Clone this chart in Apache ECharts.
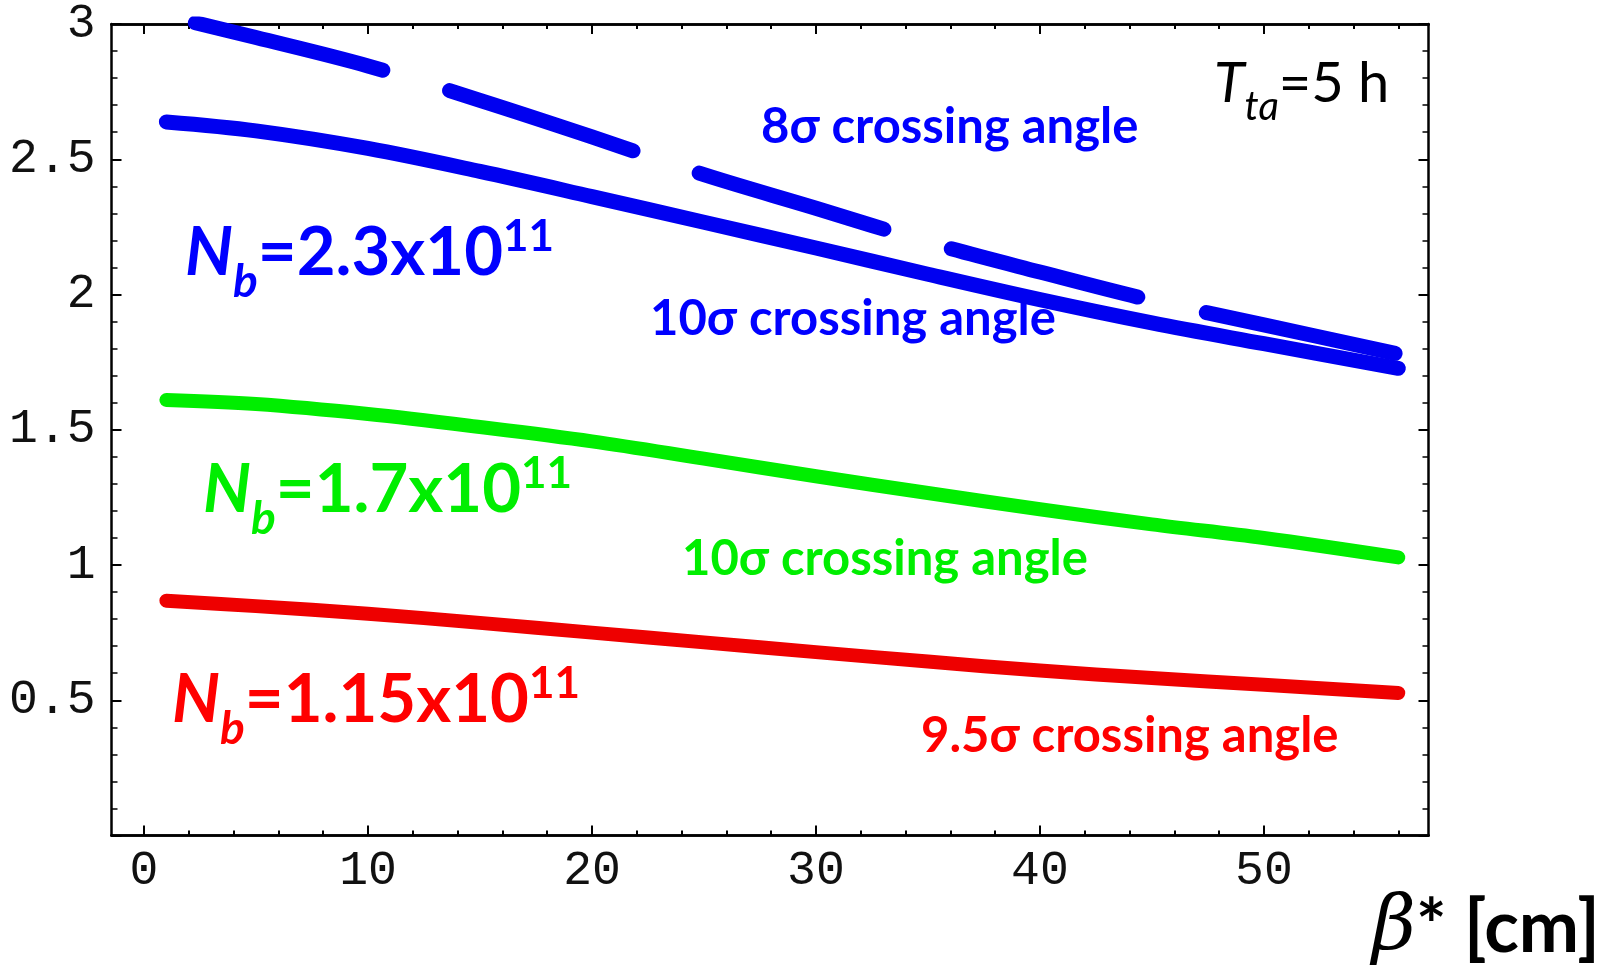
<!DOCTYPE html>
<html><head><meta charset="utf-8">
<script src="https://cdn.jsdelivr.net/npm/echarts@6/dist/echarts.min.js"></script>
<style>html,body{margin:0;padding:0;background:#fff}#c{width:1614px;height:966px}</style>
</head><body><div id="c"></div>
<script>
// beta* [cm]
const betaStar = [1, 5, 10, 15, 20, 25, 30, 35, 40, 45, 50, 56];
// Nb = 2.3e11, 8 sigma crossing angle (dashed)
const nb230_8sigma  = [3.03, 2.95, 2.845, 2.718, 2.583, 2.443, 2.319, 2.193, 2.083, 1.978, 1.888, 1.78];
// Nb = 2.3e11, 10 sigma crossing angle
const nb230_10sigma = [2.638, 2.605, 2.54, 2.455, 2.362, 2.267, 2.172, 2.075, 1.981, 1.895, 1.818, 1.727];
// Nb = 1.7e11, 10 sigma crossing angle
const nb170_10sigma = [1.61, 1.595, 1.558, 1.51, 1.457, 1.393, 1.328, 1.266, 1.206, 1.15, 1.10, 1.028];
// Nb = 1.15e11, 9.5 sigma crossing angle
const nb115_95sigma = [0.868, 0.848, 0.82, 0.786, 0.75, 0.714, 0.678, 0.643, 0.61, 0.582, 0.557, 0.527];

const xMajorTicks = [0, 10, 20, 30, 40, 50];
const xMinorTicks = [2, 4, 6, 8, 12, 14, 16, 18, 22, 24, 26, 28, 32, 34, 36, 38, 42, 44, 46, 48, 52, 54, 56];
const yLabelValues = [0.5, 1, 1.5, 2, 2.5, 3];

const X_MIN = -1.45, X_MAX = 57.35, Y_MIN = 0, Y_MAX = 3;

const chart = echarts.init(document.getElementById('c'), null, {renderer: 'canvas'});
const axisLine = {show: true, onZero: false, lineStyle: {color: '#000', width: 2.5}};
const monoFont = '"Liberation Mono", "DejaVu Sans Mono", monospace';

function xAx(pos, ticks, len, labels) {
  return {
    type: 'value', gridIndex: 0, position: pos, min: X_MIN, max: X_MAX,
    axisLine: axisLine, splitLine: {show: false},
    axisTick: {show: true, inside: true, length: len, customValues: ticks, lineStyle: {color: '#000', width: 2}},
    axisLabel: labels ? {show: true, customValues: xMajorTicks, margin: 12, fontFamily: monoFont, fontSize: 48, color: '#111'} : {show: false}
  };
}
function yAx(pos, labels) {
  return {
    type: 'value', gridIndex: 0, position: pos, min: Y_MIN, max: Y_MAX, interval: 0.5,
    axisLine: axisLine, splitLine: {show: false},
    axisTick: {show: true, inside: true, length: 10, lineStyle: {color: '#000', width: 2}},
    minorTick: {show: true, splitNumber: 5, length: 6, lineStyle: {color: '#000', width: 1.5}},
    minorSplitLine: {show: false},
    axisLabel: labels ? {show: true, customValues: yLabelValues, margin: 16, fontFamily: monoFont, fontSize: 48, color: '#111'} : {show: false}
  };
}
function line(name, data, color, width, extra) {
  return {
    name: name, type: 'line', xAxisIndex: 0, yAxisIndex: 0,
    data: betaStar.map((x, i) => [x, data[i]]),
    smooth: 0.35, symbol: 'none', showSymbol: false, clip: true,
    lineStyle: Object.assign({color: color, width: width, cap: 'round', join: 'round'}, extra || {})
  };
}

const boldFont = 'Lato, "Open Sans", sans-serif';
function nbLabel(x, baseline, color, value) {
  const F = 67, Fs = 46, Fp = 44;
  return {
    type: 'text', x: x, y: baseline - 0.387 * F, silent: true,
    style: {
      text: '{n|N}{s|b}{m|=' + value + 'x10}{p|11}',
      verticalAlign: 'middle', align: 'left', fill: color,
      rich: {
        n: {fontFamily: boldFont, fontWeight: 'bold', fontStyle: 'italic', fontSize: F, lineHeight: F, fill: color},
        s: {fontFamily: boldFont, fontWeight: 'bold', fontStyle: 'italic', fontSize: Fs, lineHeight: Fs, fill: color, padding: [58, 0, 0, 0]},
        m: {fontFamily: boldFont, fontWeight: 'bold', fontSize: F, lineHeight: F, fill: color},
        p: {fontFamily: boldFont, fontWeight: 'bold', fontSize: Fp, lineHeight: Fp, fill: color, padding: [0, 0, 32, 0]}
      }
    }
  };
}
function angleLabel(x, baseline, color, text) {
  const F = 49;
  return {
    type: 'text', x: x, y: baseline - 0.387 * F, silent: true,
    style: {text: text, verticalAlign: 'middle', align: 'left', fill: color,
      fontFamily: boldFont, fontWeight: 'bold', fontSize: F}
  };
}

const option = {
  animation: false,
  backgroundColor: '#fff',
  grid: {left: 111.5, right: 185.5, top: 22, bottom: 130.5, containLabel: false},
  xAxis: [
    xAx('bottom', xMajorTicks, 10, true),
    xAx('bottom', xMinorTicks, 5, false),
    xAx('top', xMajorTicks, 10, false),
    xAx('top', xMinorTicks, 5, false)
  ],
  yAxis: [yAx('left', true), yAx('right', false)],
  series: [
    line('8σ, Nb=2.3e11', nb230_8sigma, '#0000f0', 15, {type: [193, 70], dashOffset: 233}),
    line('10σ, Nb=2.3e11', nb230_10sigma, '#0000f0', 15),
    line('10σ, Nb=1.7e11', nb170_10sigma, '#00ee00', 14),
    line('9.5σ, Nb=1.15e11', nb115_95sigma, '#ee0000', 14)
  ],
  graphic: [
    nbLabel(185, 279, '#0000ff', '2.3'),
    nbLabel(203, 516, '#00ee00', '1.7'),
    nbLabel(172, 726, '#ff0000', '1.15'),
    angleLabel(761, 146, '#0000ff', '8σ crossing angle'),
    angleLabel(650, 338, '#0000ff', '10σ crossing angle'),
    angleLabel(682, 578, '#00ee00', '10σ crossing angle'),
    angleLabel(921, 755, '#ff0000', '9.5σ crossing angle'),
    {
      type: 'text', x: 1214, y: 106 - 0.387 * 56, silent: true,
      style: {text: '{t|T}{s|ta}{m|=5 h}', verticalAlign: 'middle', align: 'left', fill: '#000',
        rich: {
          t: {fontFamily: boldFont, fontStyle: 'italic', fontSize: 56, lineHeight: 56, fill: '#000'},
          s: {fontFamily: boldFont, fontStyle: 'italic', fontSize: 40, lineHeight: 40, fill: '#000', padding: [46, 0, 0, 0]},
          m: {fontFamily: boldFont, fontSize: 56, lineHeight: 56, fill: '#000'}
        }}
    },
    {
      type: 'text', x: 1372, y: 957 - 0.387 * 72, silent: true,
      style: {text: '{b|β}{a|* [cm]}', verticalAlign: 'middle', align: 'left', fill: '#000',
        rich: {
          b: {fontFamily: '"DejaVu Serif", serif', fontStyle: 'italic', fontSize: 76, lineHeight: 76, fill: '#000'},
          a: {fontFamily: boldFont, fontWeight: 'bold', fontSize: 72, lineHeight: 72, fill: '#000'}
        }}
    }
  ]
};
chart.setOption(option);
</script></body></html>
